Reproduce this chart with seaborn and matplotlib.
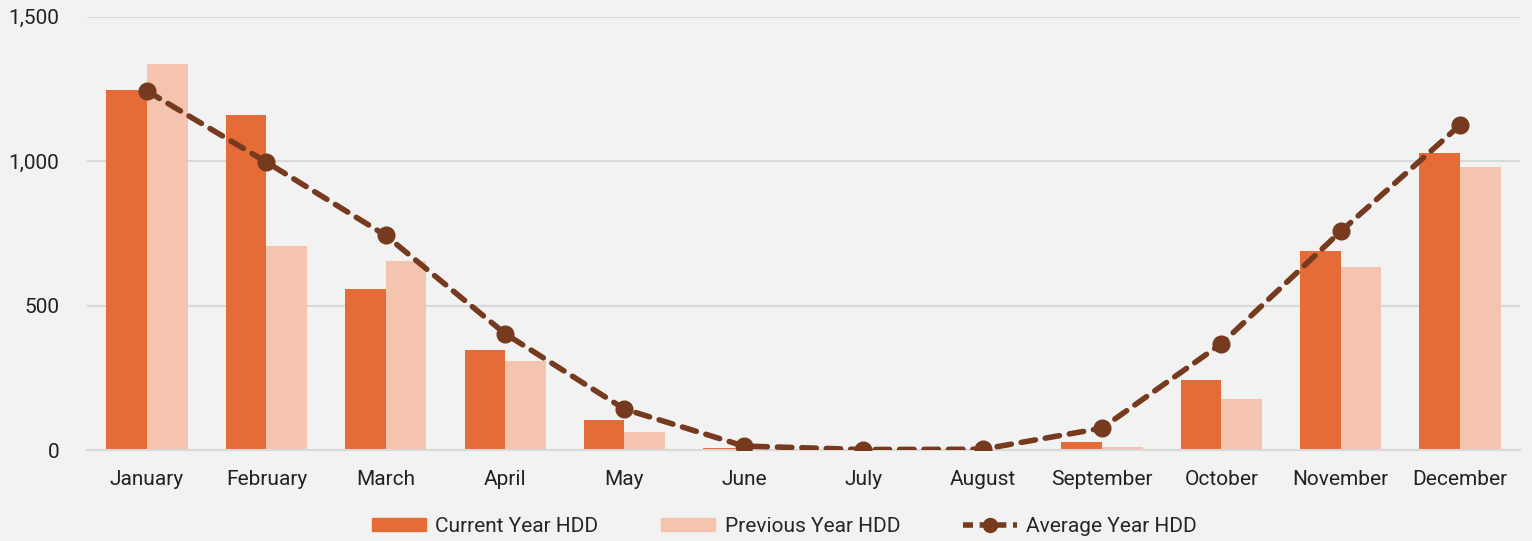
import pandas as pd
import numpy as np
import matplotlib.pyplot as plt
import seaborn as sns
from matplotlib.patches import Patch
from matplotlib.lines import Line2D
from matplotlib.ticker import FuncFormatter

sns.set_style('white')
plt.rcParams['font.family'] = ['Roboto', 'DejaVu Sans']

# Data
months = ['January', 'February', 'March', 'April', 'May', 'June',
          'July', 'August', 'September', 'October', 'November', 'December']
current_hdd = [1247, 1160, 559, 347, 104, 7, 0, 0, 28, 243, 688, 1028]
previous_hdd = [1337, 705, 653, 309, 63, 1, 0, 0, 12, 177, 635, 979]
average_hdd = [1243, 997, 743, 403, 142, 14, 2, 3, 76, 368, 757, 1125]

series_names = ['Current Year HDD', 'Previous Year HDD', 'Average Year HDD']
colors = ['#e66c37', '#f4c4ae', '#763a1e']
bg = '#f2f2f2'

df = pd.DataFrame({
    'Month': months * 2,
    'HDD': current_hdd + previous_hdd,
    'Series': [series_names[0]] * 12 + [series_names[1]] * 12,
})

fig, ax = plt.subplots(figsize=(15.32, 5.41), dpi=100)
fig.patch.set_facecolor(bg)
ax.set_facecolor(bg)

sns.barplot(data=df, x='Month', y='HDD', hue='Series', order=months,
            palette=colors[:2], saturation=1, width=0.68, gap=0, errorbar=None,
            linewidth=0, legend=False, ax=ax)

sns.pointplot(x=months, y=average_hdd, color=colors[2], markers='o',
              linestyles='--', markersize=10, linewidth=4, errorbar=None, ax=ax)
line = ax.lines[-1]
line.set_dashes([2.6, 1.8])
line.set_dash_capstyle('round')
line.set_zorder(5)

ax.set_ylim(0, 1500)
ax.set_yticks([0, 500, 1000, 1500])
ax.yaxis.set_major_formatter(FuncFormatter(lambda v, p: f'{int(v):,}'))
ax.grid(axis='y', color='#d9d9d9', linewidth=1.5)
ax.set_axisbelow(True)
for s in ['top', 'right', 'left']:
    ax.spines[s].set_visible(False)
ax.spines['bottom'].set_color('#d9d9d9')
ax.spines['bottom'].set_linewidth(1.5)
ax.tick_params(axis='y', length=0, labelsize=15, colors='#222222', pad=20)
ax.tick_params(axis='x', length=0, labelsize=15, colors='#222222', pad=14)
ax.set_xlabel('')
ax.set_ylabel('')
ax.set_xlim(-0.5, 11.5)

handles = [Patch(color=colors[0]), Patch(color=colors[1]),
           Line2D([0], [0], color=colors[2], linestyle='--', linewidth=4,
                  marker='o', markersize=10, dashes=[1.8, 1.2])]
fig.legend(handles, series_names, loc='lower center', ncol=3, frameon=False,
           fontsize=15, handlelength=2.6, handleheight=0.55,
           columnspacing=3.0, handletextpad=0.45, bbox_to_anchor=(0.512, -0.025))

plt.subplots_adjust(left=0.057, right=0.992, top=0.969, bottom=0.168)
plt.savefig('out.png', dpi=100, facecolor=bg)
